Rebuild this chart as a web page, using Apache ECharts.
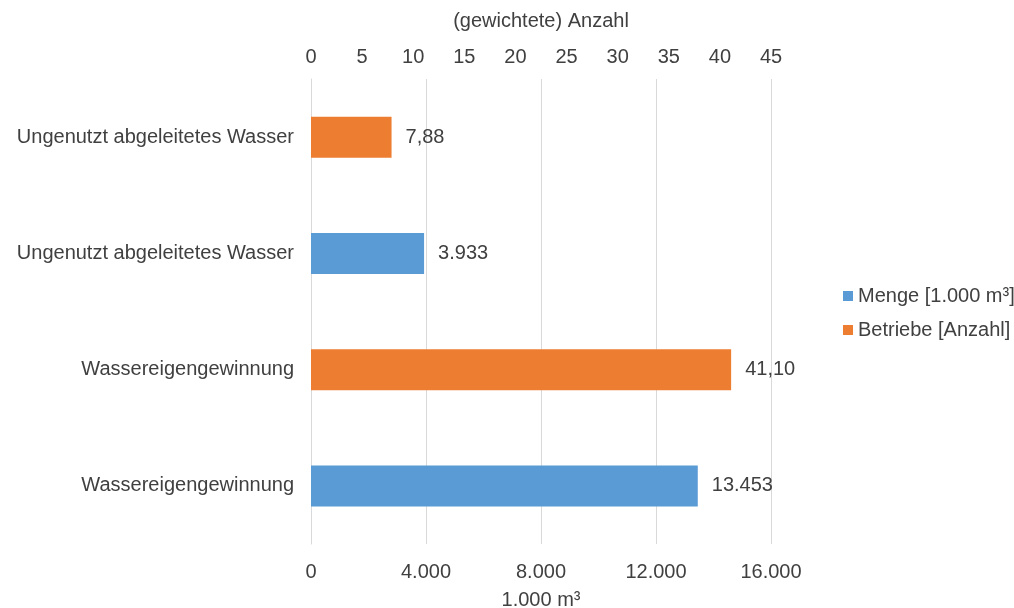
<!DOCTYPE html>
<html>
<head>
    <meta charset="utf-8">
    <title>Wasser</title>
    <script src="https://cdn.jsdelivr.net/npm/echarts@6/dist/echarts.min.js"></script>
</head>
<body style="margin:0;background:#fff;">
    <div id="main" style="width:1014px;height:608px;"></div>
    <script type="text/javascript">
    // Kategorien von oben nach unten
    var categories = ['Ungenutzt abgeleitetes Wasser', 'Ungenutzt abgeleitetes Wasser', 'Wassereigengewinnung', 'Wassereigengewinnung'];
    // Menge [1.000 m³] (untere Achse)
    var menge = ['-', 3933, '-', 13453];
    // Betriebe [Anzahl] (obere Achse)
    var betriebe = [7.88, '-', 41.10, '-'];

    var textColor = '#404040';
    var font = 'Liberation Sans, Arial, sans-serif';
    var fs = 20;

    function deNum(v, dec) {
        var s = v.toFixed(dec);
        var parts = s.split('.');
        parts[0] = parts[0].replace(/\B(?=(\d{3})+(?!\d))/g, '.');
        return parts.length > 1 ? parts[0] + ',' + parts[1] : parts[0];
    }

    var myChart = echarts.init(document.getElementById('main'));
    var option = {
        animation: false,
        textStyle: { fontFamily: font },
        legend: {
            orient: 'vertical',
            left: 838,
            top: 281,
            itemWidth: 10,
            itemHeight: 10,
            itemGap: 14,
            itemStyle: { borderWidth: 0 },
            icon: 'rect',
            textStyle: { fontSize: fs, color: textColor, fontFamily: font },
            data: ['Menge [1.000 m³]', 'Betriebe [Anzahl]']
        },
        grid: { left: 311, right: 243, top: 79, bottom: 64, outerBoundsMode: 'none' },
        xAxis: [{
            type: 'value',
            position: 'bottom',
            min: 0, max: 16000, interval: 4000,
            name: '1.000 m³',
            nameLocation: 'middle',
            nameGap: 46,
            nameTextStyle: { fontSize: fs, color: textColor },
            axisLine: { show: false },
            axisTick: { show: false },
            axisLabel: { fontSize: fs, color: textColor, margin: 18, formatter: function (v) { return deNum(v, 0); } },
            splitLine: { show: true, lineStyle: { color: '#d9d9d9' } }
        }, {
            type: 'value',
            position: 'top',
            min: 0, max: 45, interval: 5,
            name: '(gewichtete) Anzahl',
            nameLocation: 'middle',
            nameGap: 48,
            nameTextStyle: { fontSize: fs, color: textColor },
            axisLine: { show: false },
            axisTick: { show: false },
            axisLabel: { fontSize: fs, color: textColor, margin: 12 },
            splitLine: { show: false }
        }],
        yAxis: {
            type: 'category',
            inverse: true,
            data: [0, 1, 2, 3],
            axisLine: { show: true, lineStyle: { color: '#d9d9d9' } },
            axisTick: { show: false },
            axisLabel: { fontSize: fs, color: textColor, margin: 17, formatter: function (v) { return categories[v]; } }
        },
        series: [{
            name: 'Menge [1.000 m³]',
            type: 'bar',
            xAxisIndex: 0,
            data: menge,
            barWidth: 41,
            barGap: '-100%',
            itemStyle: { color: '#5B9BD5' },
            label: { show: true, position: 'right', distance: 14, fontSize: fs, color: textColor,
                formatter: function (p) { return deNum(p.value, 0); } }
        }, {
            name: 'Betriebe [Anzahl]',
            type: 'bar',
            xAxisIndex: 1,
            data: betriebe,
            barWidth: 41,
            barGap: '-100%',
            itemStyle: { color: '#ED7D31' },
            label: { show: true, position: 'right', distance: 14, fontSize: fs, color: textColor,
                formatter: function (p) { return deNum(p.value, 2); } }
        }]
    };
    myChart.setOption(option);
    </script>
</body>
</html>
